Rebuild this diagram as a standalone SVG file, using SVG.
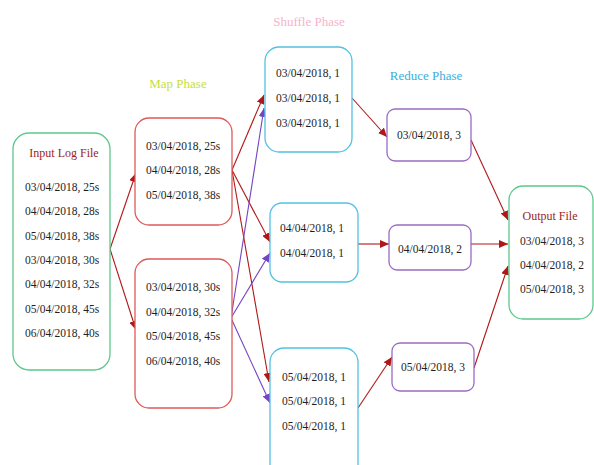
<svg xmlns="http://www.w3.org/2000/svg" width="594" height="465" viewBox="0 0 594 465">
  <defs>
    <marker id="arrow-red" viewBox="0 0 9 8" refX="9" refY="4" markerWidth="9" markerHeight="8" markerUnits="userSpaceOnUse" orient="auto">
      <path d="M0,0 L9,4 L0,8 z" fill="#b01818"/>
    </marker>
    <marker id="arrow-purple" viewBox="0 0 9 8" refX="9" refY="4" markerWidth="9" markerHeight="8" markerUnits="userSpaceOnUse" orient="auto">
      <path d="M0,0 L9,4 L0,8 z" fill="#7444c4"/>
    </marker>
  </defs>
  <style>
    text { font-family: "Liberation Serif", "DejaVu Serif", serif; }
    .data { font-size: 11.5px; fill: #1e1e1e; }
    .mid { text-anchor: middle; }
    .title { font-size: 12px; fill: #9c1e1e; text-anchor: middle; }
    .phase { font-size: 13px; text-anchor: middle; }
    .box { fill: #ffffff; stroke-width: 1.3; }
    .file { stroke: #5cc98c; }
    .map { stroke: #de5a5a; }
    .shuffle { stroke: #52c2e2; }
    .reduce { stroke: #9a6cc4; }
    .red { stroke: #b01818; stroke-width: 1.1; fill: none; marker-end: url(#arrow-red); }
    .purple { stroke: #7444c4; stroke-width: 1.1; fill: none; marker-end: url(#arrow-purple); }
  </style>
  <rect width="594" height="465" fill="#ffffff"/>

  <!-- phase headings -->
  <g id="phase-labels">
    <text class="phase" x="178" y="88" fill="#c6e03c">Map Phase</text>
    <text class="phase" x="309" y="26" fill="#f5b4cb">Shuffle Phase</text>
    <text class="phase" x="426" y="80" fill="#3aaedb">Reduce Phase</text>
  </g>

  <!-- connectors -->
  <g id="connectors">
    <line class="red" x1="110" y1="249" x2="136" y2="173"/>
    <line class="red" x1="110" y1="249" x2="136" y2="330"/>
    <line class="red" x1="232" y1="170" x2="264" y2="95"/>
    <line class="red" x1="232" y1="170" x2="270" y2="242"/>
    <line class="red" x1="232" y1="170" x2="269" y2="382"/>
    <line class="purple" x1="231" y1="318" x2="264" y2="108"/>
    <line class="purple" x1="231" y1="318" x2="270" y2="253"/>
    <line class="purple" x1="231" y1="318" x2="270" y2="403"/>
    <line class="red" x1="352" y1="98" x2="387" y2="137"/>
    <line class="red" x1="358" y1="244" x2="389" y2="244"/>
    <line class="red" x1="358" y1="408" x2="392" y2="357"/>
    <line class="red" x1="471" y1="140" x2="508" y2="220"/>
    <line class="red" x1="471" y1="244" x2="508" y2="244"/>
    <line class="red" x1="474" y1="368" x2="508" y2="266"/>
  </g>

  <!-- input -->
  <g id="input-log-file">
    <rect class="box file" x="13" y="133" width="97" height="237" rx="16"/>
    <text class="title" x="64" y="157">Input Log File</text>
    <text class="data" x="25" y="191">03/04/2018, 25s</text>
    <text class="data" x="25" y="215">04/04/2018, 28s</text>
    <text class="data" x="25" y="240">05/04/2018, 38s</text>
    <text class="data" x="25" y="264">03/04/2018, 30s</text>
    <text class="data" x="25" y="288">04/04/2018, 32s</text>
    <text class="data" x="25" y="313">05/04/2018, 45s</text>
    <text class="data" x="25" y="337">06/04/2018, 40s</text>
  </g>

  <!-- map -->
  <g id="map-1">
    <rect class="box map" x="135" y="118" width="97" height="107" rx="14"/>
    <text class="data" x="146" y="150">03/04/2018, 25s</text>
    <text class="data" x="146" y="174">04/04/2018, 28s</text>
    <text class="data" x="146" y="199">05/04/2018, 38s</text>
  </g>
  <g id="map-2">
    <rect class="box map" x="135" y="259" width="97" height="149" rx="14"/>
    <text class="data" x="146" y="291">03/04/2018, 30s</text>
    <text class="data" x="146" y="316">04/04/2018, 32s</text>
    <text class="data" x="146" y="340">05/04/2018, 45s</text>
    <text class="data" x="146" y="365">06/04/2018, 40s</text>
  </g>

  <!-- shuffle -->
  <g id="shuffle-1">
    <rect class="box shuffle" x="265" y="47" width="87" height="105" rx="14"/>
    <text class="data" x="276" y="77">03/04/2018, 1</text>
    <text class="data" x="276" y="102">03/04/2018, 1</text>
    <text class="data" x="276" y="127">03/04/2018, 1</text>
  </g>
  <g id="shuffle-2">
    <rect class="box shuffle" x="270" y="203" width="88" height="79" rx="12"/>
    <text class="data" x="280" y="232">04/04/2018, 1</text>
    <text class="data" x="280" y="257">04/04/2018, 1</text>
  </g>
  <g id="shuffle-3">
    <rect class="box shuffle" x="270" y="348" width="88" height="130" rx="14"/>
    <text class="data" x="282" y="381">05/04/2018, 1</text>
    <text class="data" x="282" y="405">05/04/2018, 1</text>
    <text class="data" x="282" y="430">05/04/2018, 1</text>
  </g>

  <!-- reduce -->
  <g id="reduce-1">
    <rect class="box reduce" x="387" y="109" width="84" height="52" rx="8"/>
    <text class="data mid" x="429" y="139">03/04/2018, 3</text>
  </g>
  <g id="reduce-2">
    <rect class="box reduce" x="389" y="225" width="82" height="45" rx="8"/>
    <text class="data mid" x="430" y="253">04/04/2018, 2</text>
  </g>
  <g id="reduce-3">
    <rect class="box reduce" x="392" y="343" width="82" height="48" rx="8"/>
    <text class="data mid" x="433" y="371">05/04/2018, 3</text>
  </g>

  <!-- output -->
  <g id="output-file">
    <rect class="box file" x="509" y="186" width="84" height="133" rx="14"/>
    <text class="title" x="550" y="220">Output File</text>
    <text class="data" x="520" y="245">03/04/2018, 3</text>
    <text class="data" x="520" y="269">04/04/2018, 2</text>
    <text class="data" x="520" y="293">05/04/2018, 3</text>
  </g>
</svg>
